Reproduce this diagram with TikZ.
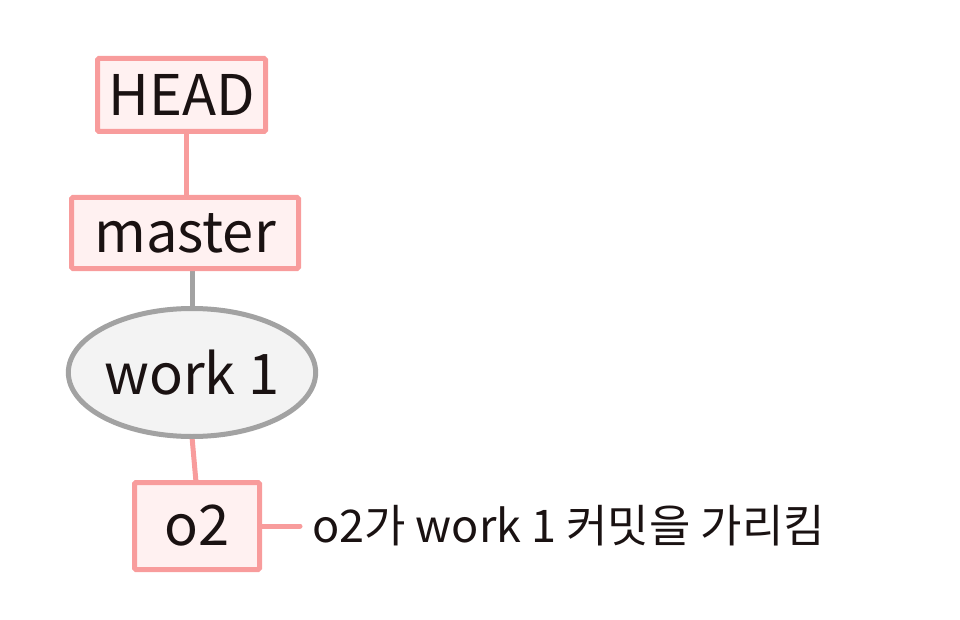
\documentclass[tikz,border=0pt]{standalone}
\usepackage{fontspec}
\setmainfont{Noto Sans CJK KR}
\usetikzlibrary{shapes.geometric}
\definecolor{pinkline}{HTML}{F89C9C}
\definecolor{pinkfill}{HTML}{FFF1F1}
\definecolor{grayline}{HTML}{A2A2A2}
\definecolor{grayfill}{HTML}{F3F3F3}
\definecolor{txt}{HTML}{1A1212}
\tikzset{
  refbox/.style={draw=pinkline, fill=pinkfill, line width=5pt, rounded corners=1.5pt, text=txt, inner sep=0pt, font=\fontsize{56}{62}\selectfont},
  commit/.style={ellipse, draw=grayline, fill=grayfill, line width=5pt, text=txt, inner sep=0pt, font=\fontsize{56}{62}\selectfont},
  pinkedge/.style={draw=pinkline, line width=5pt, line cap=round},
  grayedge/.style={draw=grayline, line width=5pt},
}
\begin{document}
\begin{tikzpicture}[x=1pt, y=-1pt]
\useasboundingbox (0,0) rectangle (960,620);
\draw[pinkedge] (186,132) -- (186,197);
\draw[grayedge] (192,269) -- (192,308);
\draw[pinkedge, line cap=butt] (192,437) -- (196,482);
\node[refbox, minimum width=168pt, minimum height=73pt] (head) at (181.5,95) {HEAD};
\node[refbox, minimum width=227pt, minimum height=71pt] (master) at (185,233) {master};
\node[commit, minimum width=239pt, minimum height=128pt] (work) at (192,372.5) {work 1};
\node[refbox, minimum width=125pt, minimum height=87pt] (o2) at (197,526) {o2};
\node[anchor=west, text=txt, font=\fontsize{45}{50}\selectfont, inner sep=0pt] (lbl) at (312,526) {o2가 work 1 커밋을 가리킴};
\coordinate (lblend) at (300,526);
\draw[pinkedge] (o2.east) -- (lblend);
\end{tikzpicture}
\end{document}
